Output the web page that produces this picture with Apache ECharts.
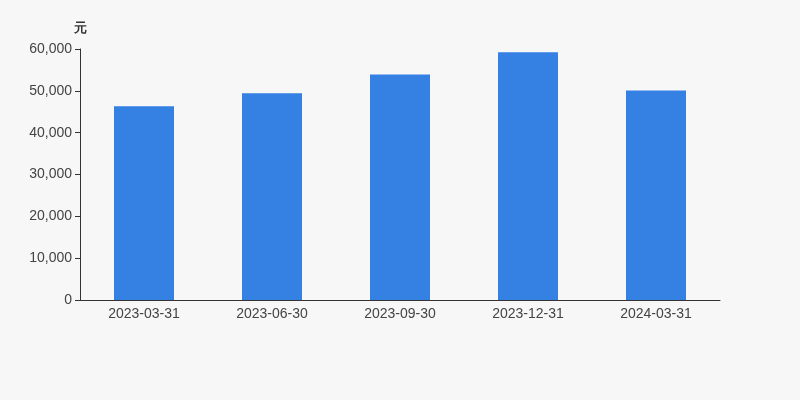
<!DOCTYPE html>
<html><head><meta charset="utf-8">
<script src="https://cdn.jsdelivr.net/npm/echarts@6/dist/echarts.min.js"></script>
<style>html,body{margin:0;padding:0;background:#f7f7f7;}#c{width:800px;height:400px;}</style>
</head><body><div id="c"></div>
<script>
const categories = ['2023-03-31','2023-06-30','2023-09-30','2023-12-31','2024-03-31'];
const values = [46300, 49400, 53900, 59200, 50100];
const yTicks = {min: 0, max: 60000, interval: 10000};
const unitName = '元';

const chart = echarts.init(document.getElementById('c'));
chart.setOption({
  backgroundColor: '#f7f7f7',
  animation: false,
  grid: {left: 80, right: 80, top: 49, bottom: 100},
  xAxis: {
    type: 'category',
    data: categories,
    axisLine: {lineStyle: {color: '#333'}},
    axisTick: {lineStyle: {color: '#333'}},
    axisLabel: {color: '#444', fontSize: 14, margin: 7, fontFamily: 'Arial, Liberation Sans, sans-serif'}
  },
  yAxis: {
    type: 'value',
    min: yTicks.min, max: yTicks.max, interval: yTicks.interval,
    name: unitName,
    nameGap: 14,
    nameTextStyle: {color: '#333', fontSize: 13, fontWeight: 'bold', align: 'center'},
    axisLine: {show: true, lineStyle: {color: '#333'}},
    axisTick: {show: true, lineStyle: {color: '#333'}},
    splitLine: {show: false},
    axisLabel: {color: '#444', fontSize: 14, margin: 8, fontFamily: 'Arial, Liberation Sans, sans-serif',
      formatter: v => v.toLocaleString('en-US')}
  },
  series: [{
    type: 'bar',
    data: values,
    barWidth: 60,
    itemStyle: {color: '#3481e3'}
  }]
});
</script></body></html>
